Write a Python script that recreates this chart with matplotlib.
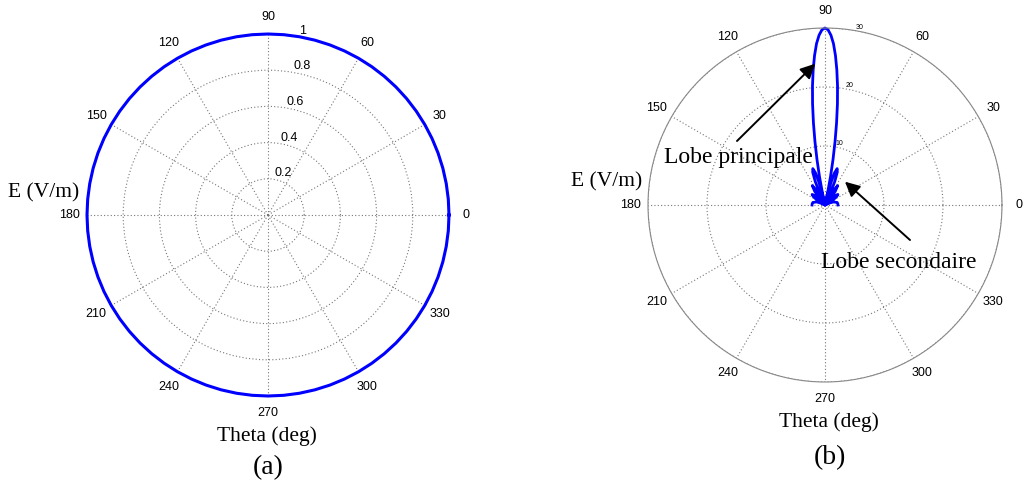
import numpy as np
import matplotlib
matplotlib.use('Agg')
import matplotlib.pyplot as plt

# (a) isotropic source: E = 1 everywhere
theta_a = list(range(0, 361, 5))
E_a = [1.0] * len(theta_a)

# (b) array pattern (upper half only)
theta_b = [0, 6, 12, 20, 24, 27, 30, 33, 36, 39.4, 43, 45, 48, 50, 53, 56.8,
           60.5, 63.5, 65.5, 67.5, 69.5, 71.5, 73.5, 75, 76, 77.2, 78, 79,
           80, 81, 82, 83, 84, 85, 86, 87, 88, 89, 90,
           91, 92, 93, 94, 95, 96, 97, 98, 99, 100, 101, 102, 102.8, 104,
           105, 106.5, 108.5, 110.5, 112.5, 114.5, 116.5, 119.5, 123.2, 127,
           130, 132, 135, 137, 140.6, 144, 147, 150, 153, 156, 160, 168, 174, 180]
E_b = [2.2, 2.18, 2.1, 1.5, 0.8, 0.05, 0.9, 1.8, 2.47, 2.82, 2.3, 1.59, 0.05,
       1.2, 2.88, 3.93, 2.72, 0.05, 2.16, 4.33, 5.95, 6.5, 5.7, 4.0, 2.35,
       0.0, 2.1, 4.9, 7.8, 10.9, 14.1, 17.3, 20.3, 23.0, 25.4, 27.4, 28.8,
       29.7, 30.0,
       29.7, 28.8, 27.4, 25.4, 23.0, 20.3, 17.3, 14.1, 10.9, 7.8, 4.9, 2.1,
       0.0, 2.35, 4.0, 5.7, 6.5, 5.95, 4.33, 2.16, 0.05, 2.72, 3.93, 2.88,
       1.2, 0.05, 1.59, 2.3, 2.82, 2.47, 1.8, 0.9, 0.05, 0.8, 1.5, 2.1, 2.18, 2.2]

rings_a = [0.2, 0.4, 0.6, 0.8, 1.0]
rings_b = [10, 20, 30]
angles = list(range(0, 360, 30))

W, H = 1025, 490
fig = plt.figure(figsize=(W / 100, H / 100), dpi=100)

sans = 'Liberation Sans'
serif = 'Liberation Serif'
grid_kw = dict(color='#777777', linestyle=(0, (1, 2)), linewidth=0.8)


def setup(ax, rings, rmax, rfont):
    ax.set_ylim(0, rmax)
    ax.set_thetagrids(angles, [str(a) for a in angles], fontsize=9, family=sans)
    ax.set_rgrids(rings, [f'{r:g}' for r in rings], fontsize=rfont, family=sans)
    ax.set_rlabel_position(80)
    ax.grid(True, **grid_kw)
    ax.tick_params(axis='x', pad=2)
    ax.spines['polar'].set_color('#888888')
    ax.spines['polar'].set_linewidth(0.8)


def px_axes(cx, cy, R):
    return [(cx - R) / W, (H - cy - R) / H, 2 * R / W, 2 * R / H]


ax1 = fig.add_axes(px_axes(268, 215, 181), projection='polar')
setup(ax1, rings_a, 1.0, 9)
ax1.spines['polar'].set_visible(False)
ax1.plot(np.deg2rad(theta_a), E_a, color='#0000ff', lw=2.2, clip_on=False)

ax2 = fig.add_axes(px_axes(825, 205, 177), projection='polar')
setup(ax2, rings_b, 30, 5)
ax2.plot(np.deg2rad(theta_b), E_b, color='#0000ff', lw=2.0, clip_on=False)

# labels
fig.text(44 / W, 1 - 193 / H, 'E (V/m)', family=serif, fontsize=15.5, ha='center', va='center')
fig.text(267 / W, 1 - 436 / H, 'Theta (deg)', family=serif, fontsize=15.5, ha='center', va='center')
fig.text(268 / W, 1 - 468 / H, '(a)', family=serif, fontsize=20, ha='center', va='center')

fig.text(607 / W, 1 - 182 / H, 'E (V/m)', family=serif, fontsize=15.5, ha='center', va='center')
fig.text(829 / W, 1 - 422 / H, 'Theta (deg)', family=serif, fontsize=15.5, ha='center', va='center')
fig.text(830 / W, 1 - 458 / H, '(b)', family=serif, fontsize=20, ha='center', va='center')

fig.text(738 / W, 1 - 158 / H, 'Lobe principale', family=serif, fontsize=17, ha='center', va='center')
fig.text(899 / W, 1 - 263 / H, 'Lobe secondaire', family=serif, fontsize=17, ha='center', va='center')

arrow = dict(arrowstyle='-|>', color='black', lw=1.4, mutation_scale=22, shrinkA=0, shrinkB=0)
ax2.annotate('', xy=(np.deg2rad(94), 24.0), xytext=(737 / W, 1 - 141 / H),
             textcoords='figure fraction', arrowprops=arrow)
ax2.annotate('', xy=(np.deg2rad(49.4), 5.2), xytext=(910 / W, 1 - 240 / H),
             textcoords='figure fraction', arrowprops=arrow)

fig.savefig('out.png', dpi=100)
